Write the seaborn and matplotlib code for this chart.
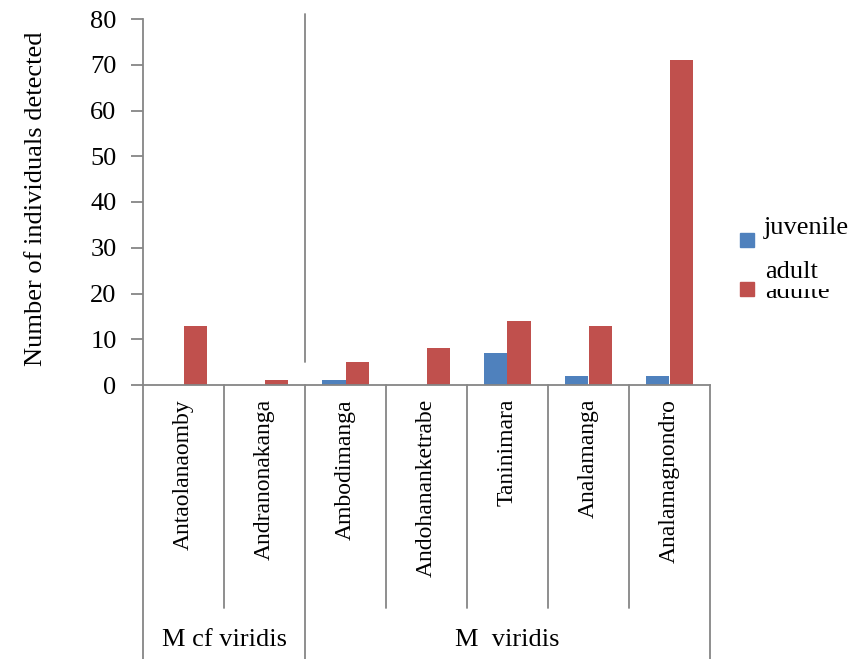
import matplotlib
matplotlib.use("Agg")
import matplotlib.pyplot as plt
from matplotlib.patches import Rectangle
import seaborn as sns
import pandas as pd

# Survey counts per site
sites = ["Antaolanaomby", "Andranonakanga", "Ambodimanga", "Andohananketrabe",
         "Taninimara", "Analamanga", "Analamagnondro"]
juvenile = [0, 0, 1, 0, 7, 2, 2]
adult = [13, 1, 5, 8, 14, 13, 71]
stages = ["juvenile", "adult"]
groups = ["M cf viridis", "M  viridis"]
group_sizes = [2, 5]
yticks = [0, 10, 20, 30, 40, 50, 60, 70, 80]

colors = ["#4F81BD", "#C0504D"]
axis_gray = "#868686"

df = pd.DataFrame({
    "site": sites * 2,
    "stage": [stages[0]] * len(sites) + [stages[1]] * len(sites),
    "count": juvenile + adult,
})

sns.set_theme(style="white")
plt.rcParams["font.family"] = ["Liberation Serif", "DejaVu Serif"]
plt.rcParams["text.color"] = "black"

W, H = 851, 659
fig = plt.figure(figsize=(W / 100, H / 100), dpi=100)

x0, x1, ytop, ybot = 143, 710, 19, 385
ax = fig.add_axes([x0 / W, 1 - ybot / H, (x1 - x0) / W, (ybot - ytop) / H])

sns.barplot(data=df, x="site", y="count", hue="stage", order=sites,
            hue_order=stages, palette=colors, width=0.58, saturation=1,
            edgecolor="none", legend=False, ax=ax)

ax.set_ylim(0, 80)
ax.set_xlim(-0.5, len(sites) - 0.5)
ax.set_yticks(yticks)
ax.set_yticklabels([str(v) for v in yticks], fontsize=19, color="black")
ax.set_xticks([])
ax.set_xlabel("")
ax.set_ylabel("Number of individuals detected", fontsize=19, color="black")
ax.yaxis.label.set_va("center")
ax.yaxis.set_label_coords((36 - x0) / (x1 - x0), 0.51)
ax.tick_params(axis="y", direction="out", length=9, width=1.3,
               color=axis_gray, left=True, pad=10, labelcolor="black")
for s in ["top", "right"]:
    ax.spines[s].set_visible(False)
for s in ["left", "bottom"]:
    ax.spines[s].set_color(axis_gray)
    ax.spines[s].set_linewidth(1.3)

ah = ybot - ytop
xt = ax.get_xaxis_transform()


def ay(px):
    """Pixel row below the axes -> axes fraction."""
    return -(px - ybot) / ah


# category separators below the axis
bounds = [i - 0.5 for i in range(len(sites) + 1)]
group_edges = [-0.5]
for n in group_sizes:
    group_edges.append(group_edges[-1] + n)
for b in bounds:
    bottom = 659 if b in group_edges else 608
    ax.plot([b, b], [0, ay(bottom)], transform=xt, color=axis_gray,
            lw=1.3, clip_on=False)

# site names
for i, name in enumerate(sites):
    ax.text(i, ay(399), name, transform=xt, rotation=90, ha="center",
            va="top", fontsize=17, color="black")

# group names
for g, lo, hi in zip(groups, group_edges[:-1], group_edges[1:]):
    ax.text((lo + hi) / 2, ay(640), g, transform=xt, ha="center",
            va="center", fontsize=19, color="black")

# divider between the two taxa
ax.plot([group_edges[1], group_edges[1]], [5, 81], color=axis_gray, lw=1.3,
        clip_on=False)

# legend
fig_t = fig.transFigure


def fx(px):
    return px / W


def fy(py):
    return 1 - py / H


sq = 14
fig.patches.append(Rectangle((fx(740), fy(247)), sq / W, sq / H,
                             transform=fig_t, color=colors[0]))
fig.patches.append(Rectangle((fx(740), fy(296)), sq / W, sq / H,
                             transform=fig_t, color=colors[1]))
fig.text(fx(764), fy(234), stages[0], fontsize=19, va="baseline", ha="left",
         color="black")
fig.text(fx(765), fy(298), "adulte", fontsize=19, va="baseline", ha="left",
         color="black", zorder=1)
fig.patches.append(Rectangle((fx(760), fy(289)), 80 / W, 30 / H,
                             transform=fig_t, facecolor="white",
                             edgecolor="none", zorder=2))
fig.text(fx(765), fy(278), stages[1], fontsize=19, va="baseline", ha="left",
         color="black", zorder=3)

fig.savefig("out.png", dpi=100)
